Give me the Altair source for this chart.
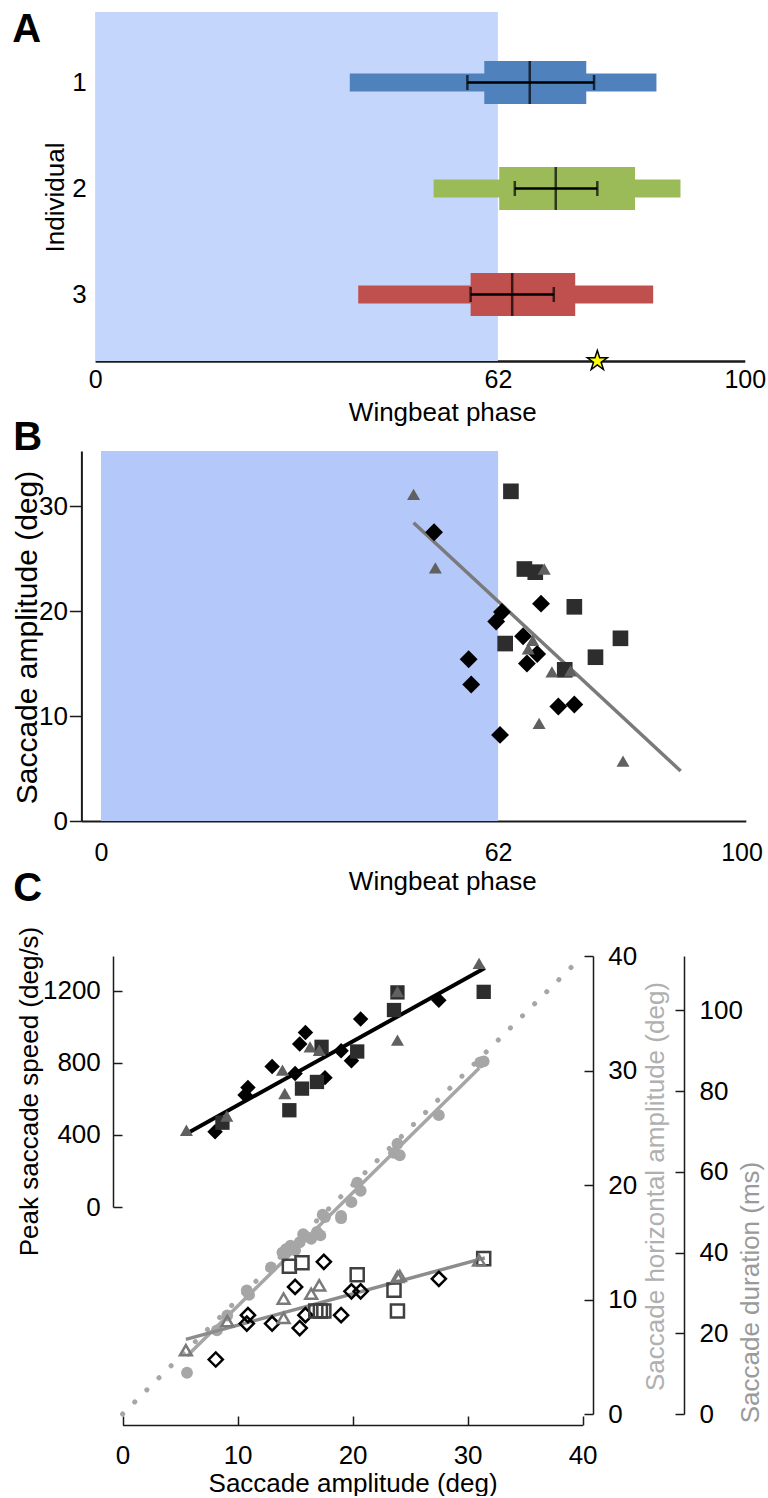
import altair as alt
import pandas as pd

FONT = "Liberation Sans"
INK = "#1a1a1a"

# ---------------- Panel A ----------------
a_individual = [1, 2, 3]
a_outer_lo = [39.2, 52.1, 40.5]
a_outer_hi = [86.4, 90.1, 85.9]
a_inner_lo = [59.9, 62.2, 57.8]
a_inner_hi = [75.6, 83.1, 73.9]
a_mean = [66.9, 70.9, 64.2]
a_err_lo = [57.3, 64.6, 57.8]
a_err_hi = [76.8, 77.3, 70.6]
a_colors = ["#4f81bd", "#9bbb59", "#c0504d"]
a_star = [77.3]
shade_phase = [0, 62]
phase_ticks = [0, 62, 100]

# ---------------- Panel B ----------------
b_tri_phase = [48.8, 52.2, 69.2, 67.4, 66.7, 70.4, 73.3, 68.4, 81.5]
b_tri_amp = [31.1, 24.1, 24.0, 17.2, 16.4, 14.2, 14.3, 9.3, 5.7]
b_sq_phase = [64.0, 66.1, 67.8, 73.9, 63.1, 81.1, 77.2, 72.4]
b_sq_amp = [31.4, 24.0, 23.7, 20.4, 16.9, 17.4, 15.6, 14.4]
b_dia_phase = [52.0, 68.7, 62.6, 61.7, 65.9, 68.1, 66.5, 57.4, 57.8, 71.4, 73.9, 62.3]
b_dia_amp = [27.5, 20.7, 19.9, 19.0, 17.6, 15.9, 15.0, 15.4, 13.0, 10.9, 11.1, 8.2]
b_fit_phase = [48.8, 90.5]
b_fit_amp = [28.4, 4.76]

# ---------------- Panel C ----------------
c_tri_amp = [5.55, 9.06, 13.9, 14.1, 16.3, 17.1, 23.9, 23.9, 31.0]
c_tri_speed = [426, 505, 760, 630, 889, 870, 926, 1196, 1352]
c_sq_amp = [8.68, 14.5, 15.6, 16.9, 17.3, 20.4, 23.6, 23.9, 31.4]
c_sq_speed = [468, 537, 657, 694, 889, 863, 1093, 1191, 1194]
c_dia_amp = [8.04, 10.9, 10.65, 13.0, 15.0, 15.4, 15.9, 17.6, 19.0, 19.9, 20.7, 27.5]
c_dia_speed = [418, 663, 622, 780, 741, 904, 968, 718, 867, 811, 1043, 1148]
c_speed_fit_amp = [5.55, 31.5]
c_speed_fit = [407, 1326]

c_circ_amp = [5.6, 8.2, 9.1, 10.8, 11.0, 12.9, 13.9, 14.2, 14.6, 15.0, 15.4, 15.7, 15.9, 16.4,
              16.9, 17.2, 17.4, 17.6, 19.0, 19.0, 19.9, 20.4, 20.7, 23.6, 23.9, 24.1, 27.5, 31.1, 31.4]
c_circ_horiz = [3.6, 7.3, 8.6, 10.8, 10.4, 12.8, 14.1, 14.4, 14.7, 14.3, 15.0, 15.7, 15.5, 15.3,
                15.9, 15.6, 17.4, 17.2, 17.1, 17.3, 18.5, 20.2, 19.5, 22.8, 23.6, 22.6, 26.1, 30.7, 30.8]
c_horiz_fit_amp = [5.6, 31.0]
c_horiz_fit = [5.06, 30.2]
c_unity = [0, 39.5]

c_otri_amp = [5.5, 9.1, 14.0, 14.0, 16.4, 17.1, 23.9, 24.1, 31.0]
c_otri_dur = [15.8, 23.0, 28.6, 23.8, 29.8, 31.9, 34.0, 34.2, 38.1]
c_osq_amp = [14.5, 15.6, 16.8, 17.2, 17.5, 20.4, 23.6, 23.9, 31.4]
c_osq_dur = [36.6, 37.5, 25.5, 25.5, 25.5, 34.5, 30.7, 25.5, 38.5]
c_odia_amp = [8.1, 10.9, 10.8, 13.0, 15.0, 15.4, 15.9, 17.5, 19.0, 19.9, 20.7, 27.5]
c_odia_dur = [13.5, 24.5, 22.4, 22.4, 31.5, 21.3, 24.5, 37.7, 24.5, 30.4, 30.4, 33.5]
c_dur_fit_amp = [5.5, 31.5]
c_dur_fit = [18.5, 38.7]

GROUPS = ["dia", "sq", "tri"]
SHAPES = ["diamond", "square", "triangle-up"]
STAR = ("M0,-1L0.2245,-0.309L0.951,-0.309L0.363,0.118L0.588,0.809L0,0.382"
        "L-0.588,0.809L-0.363,0.118L-0.951,-0.309L-0.2245,-0.309Z")

# layout sizes (plot areas)
A_W, A_H = 632, 349
B_W, B_H = 633, 370
C_W, C_H = 480, 503


def groups_frame(pairs, xname, yname):
    rows = []
    for g, xs, ys in pairs:
        for a, b in zip(xs, ys):
            rows.append({"grp": g, xname: a, yname: b})
    return pd.DataFrame(rows)


def tick_axis(orient, offset, values):
    """Axis drawing only short ticks pointing into the plot."""
    return alt.Axis(values=values, orient=orient, offset=offset, domain=False, labels=False,
                    ticks=True, tickSize=9, tickWidth=1.5, tickColor=INK, title=None, grid=False)


# ================= Panel A =================
dfA = pd.DataFrame(dict(ind=a_individual, olo=a_outer_lo, ohi=a_outer_hi, ilo=a_inner_lo,
                        ihi=a_inner_hi, mean=a_mean, elo=a_err_lo, ehi=a_err_hi))
shade_df = pd.DataFrame({"s0": [shade_phase[0]], "s1": [shade_phase[1]]})

xA = alt.Scale(domain=[0, 100], range=[-17.9, 631.8], nice=False, zero=False)
yA = alt.Scale(domain=[0.335, 3.627], reverse=True, nice=False, zero=False)
colA = alt.Color("ind:N", scale=alt.Scale(domain=a_individual, range=a_colors), legend=None)

xA_axis = alt.Axis(values=phase_ticks, format="d", ticks=False, domainColor=INK, domainWidth=2.5,
                   labelFontSize=25, labelPadding=6, labelFlush=False, labelColor="black",
                   title="Wingbeat phase", titleFontSize=26, titleFontWeight="normal",
                   titleColor="black", titleX=329.3, titleY=38, titleBaseline="top",
                   titleAlign="center", grid=False)
yA_axis = alt.Axis(values=a_individual, format="d", domain=False, ticks=False,
                   offset=26.7, labelPadding=0, labelFontSize=26, labelColor="black",
                   title="Individual", titleFontSize=26, titleFontWeight="normal", titleColor="black",
                   titleAngle=270, titleX=-23, titleY=185, titleBaseline="alphabetic",
                   titleAlign="center", grid=False)

a_shade = alt.Chart(shade_df).mark_rect(color="#c5d6fc").encode(
    x=alt.X("s0:Q", scale=xA, axis=xA_axis), x2="s1:Q")
a_outer = alt.Chart(dfA).mark_rule(strokeWidth=18).encode(
    x=alt.X("olo:Q", scale=xA, axis=None), x2="ohi:Q",
    y=alt.Y("ind:Q", scale=yA, axis=yA_axis), color=colA)
a_inner = alt.Chart(dfA).mark_rule(strokeWidth=43).encode(
    x=alt.X("ilo:Q", scale=xA, axis=None), x2="ihi:Q",
    y=alt.Y("ind:Q", scale=yA, axis=None), color=colA)
a_err = alt.Chart(dfA).mark_rule(strokeWidth=2.5, color="black").encode(
    x=alt.X("elo:Q", scale=xA, axis=None), x2="ehi:Q", y=alt.Y("ind:Q", scale=yA, axis=None))
a_cap_lo = alt.Chart(dfA).mark_tick(orient="vertical", size=15, thickness=2.5, color="black").encode(
    x=alt.X("elo:Q", scale=xA, axis=None), y=alt.Y("ind:Q", scale=yA, axis=None))
a_cap_hi = alt.Chart(dfA).mark_tick(orient="vertical", size=15, thickness=2.5, color="black").encode(
    x=alt.X("ehi:Q", scale=xA, axis=None), y=alt.Y("ind:Q", scale=yA, axis=None))
a_meanl = alt.Chart(dfA).mark_tick(orient="vertical", size=43, thickness=2.5, color="black").encode(
    x=alt.X("mean:Q", scale=xA, axis=None), y=alt.Y("ind:Q", scale=yA, axis=None))
a_starl = alt.Chart(pd.DataFrame({"p": a_star})).mark_point(
    shape=STAR, filled=True, fill="#ffff00", stroke="black", strokeWidth=1.5, size=440, opacity=1
).encode(x=alt.X("p:Q", scale=xA, axis=None), y=alt.value(A_H))

panelA = alt.layer(a_shade, a_outer, a_inner, a_err, a_cap_lo, a_cap_hi, a_meanl, a_starl).resolve_axis(
    x="independent", y="independent"
).properties(
    width=A_W, height=A_H,
    title=alt.Title("A", anchor="start", frame="group", fontSize=40, fontWeight="bold", font=FONT,
                    baseline="alphabetic", dx=12 - 112.7, dy=70, offset=0, color="black"))

# ================= Panel B =================
dfB = groups_frame([("dia", b_dia_phase, b_dia_amp), ("sq", b_sq_phase, b_sq_amp),
                    ("tri", b_tri_phase, b_tri_amp)], "phase", "amp")
fitB = pd.DataFrame({"phase": b_fit_phase, "amp": b_fit_amp})

xB = alt.Scale(domain=[-3.06, 100.67], range=[-31.6, 632.8], nice=False, zero=False)
yB = alt.Scale(domain=[0, 35.24], nice=False, zero=False)
xB_axis = alt.Axis(values=phase_ticks, format="d", ticks=False, domainColor=INK, domainWidth=2,
                   labelFontSize=25, labelPadding=19, labelFlush=False, labelColor="black",
                   title="Wingbeat phase", titleFontSize=26, titleFontWeight="normal",
                   titleColor="black", titleX=329.3, titleY=47, titleBaseline="top",
                   titleAlign="center", grid=False)
yB_axis = alt.Axis(values=[0, 10, 20, 30], format="d", orient="left", offset=31.6, tickSize=12,
                   tickWidth=1.5, tickColor=INK, domainColor=INK, domainWidth=2, labelPadding=2,
                   labelFontSize=26, labelColor="black", title="Saccade amplitude (deg)",
                   titleFontSize=30, titleFontWeight="normal", titleColor="black", titleAngle=270,
                   titleX=-45, titleY=186, titleBaseline="alphabetic", titleAlign="center",
                   grid=False)

b_shade = alt.Chart(shade_df).mark_rect(color="#b4c9fa").encode(
    x=alt.X("s0:Q", scale=xB, axis=xB_axis), x2="s1:Q")
b_pts = alt.Chart(dfB).mark_point(filled=True, opacity=1).encode(
    x=alt.X("phase:Q", scale=xB, axis=None),
    y=alt.Y("amp:Q", scale=yB, axis=yB_axis),
    shape=alt.Shape("grp:N", scale=alt.Scale(domain=GROUPS, range=SHAPES), legend=None),
    color=alt.Color("grp:N", scale=alt.Scale(domain=GROUPS, range=["#000000", "#2d2d2d", "#606060"]),
                    legend=None),
    size=alt.Size("grp:N", scale=alt.Scale(domain=GROUPS, range=[320, 170, 210]), legend=None))
b_fit = alt.Chart(fitB).mark_line(color="#7a7a7a", strokeWidth=3.5).encode(
    x=alt.X("phase:Q", scale=xB, axis=None), y=alt.Y("amp:Q", scale=yB, axis=None))

panelB = alt.layer(b_shade, b_fit, b_pts).resolve_axis(x="independent", y="independent").properties(
    width=B_W, height=B_H,
    title=alt.Title("B", anchor="start", frame="group", fontSize=40, fontWeight="bold", font=FONT,
                    baseline="alphabetic", dx=13 - 112.7, dy=39, offset=0, color="black"))

# ================= Panel C =================
xC = alt.Scale(domain=[0, 40], range=[9.6, 469.6], nice=False, zero=False)
c_x_vals = [0, 10, 20, 30, 40]
xC_axis = alt.Axis(values=c_x_vals, format="d", orient="bottom", offset=11, ticks=False,
                   domainColor=INK, domainWidth=1.5, labelPadding=17,
                   labelFontSize=26, labelFlush=False, labelColor="black",
                   title="Saccade amplitude (deg)", titleFontSize=26, titleFontWeight="normal",
                   titleColor="black", titleY=45, titleBaseline="top", grid=False)

ySpeed = alt.Scale(domain=[0, 1393], range=[296, 45], nice=False, zero=False)
speed_vals = [0, 400, 800, 1200]
ySpeed_axis = alt.Axis(values=speed_vals, format="d", orient="left", offset=0, ticks=False,
                       domainColor=INK, domainWidth=1.5, labelPadding=12.7,
                       labelFontSize=26, labelColor="black", title="Peak saccade speed (deg/s)",
                       titleFontSize=26, titleFontWeight="normal", titleColor="black",
                       titleAngle=270, titleX=-75.7, titleY=180, titleBaseline="alphabetic",
                       titleAlign="center", grid=False)
yHor = alt.Scale(domain=[0, 40], range=[C_H, 45], nice=False, zero=False)
hor_vals = [0, 10, 20, 30, 40]
yHor_axis = alt.Axis(values=hor_vals, format="d", orient="right", offset=0, ticks=False,
                     domainColor=INK, domainWidth=1.5,
                     labelPadding=14.7, labelFontSize=26, labelColor="black",
                     title="Saccade horizontal amplitude (deg)", titleFontSize=26,
                     titleFontWeight="normal", titleColor="#b0b0b0", titleAngle=270, titleX=70,
                     titleY=275, titleBaseline="alphabetic", titleAlign="center", grid=False)
yDur = alt.Scale(domain=[0, 113.5], range=[C_H, 45], nice=False, zero=False)
dur_vals = [0, 20, 40, 60, 80, 100]
yDur_axis = alt.Axis(values=dur_vals, format="d", orient="right", offset=91, ticks=False,
                     domainColor=INK, domainWidth=1.5, labelPadding=15,
                     labelFontSize=26, labelColor="black", title="Saccade duration (ms)",
                     titleFontSize=26, titleFontWeight="normal", titleColor="#9a9a9a",
                     titleAngle=270, titleX=74, titleY=381, titleBaseline="alphabetic",
                     titleAlign="center", grid=False)

dfSpeed = groups_frame([("dia", c_dia_amp, c_dia_speed), ("sq", c_sq_amp, c_sq_speed),
                        ("tri", c_tri_amp, c_tri_speed)], "amp", "val")
dfSpeedFit = pd.DataFrame({"amp": c_speed_fit_amp, "val": c_speed_fit})
dfCirc = pd.DataFrame({"amp": c_circ_amp, "val": c_circ_horiz})
dfHorFit = pd.DataFrame({"amp": c_horiz_fit_amp, "val": c_horiz_fit})
dfUnity = pd.DataFrame({"amp": c_unity, "val": c_unity})
dfDur = groups_frame([("dia", c_odia_amp, c_odia_dur), ("sq", c_osq_amp, c_osq_dur),
                      ("tri", c_otri_amp, c_otri_dur)], "amp", "val")
dfDurFit = pd.DataFrame({"amp": c_dur_fit_amp, "val": c_dur_fit})

# horizontal amplitude group
c_unity_l = alt.Chart(dfUnity).mark_line(color="#a6a6a6", strokeWidth=5, strokeCap="round",
                                         strokeDash=[0.1, 17]).encode(
    x=alt.X("amp:Q", scale=xC, axis=None), y=alt.Y("val:Q", scale=yHor, axis=yHor_axis))
c_circ = alt.Chart(dfCirc).mark_circle(color="#a6a6a6", size=140, opacity=1).encode(
    x=alt.X("amp:Q", scale=xC, axis=None),
    y=alt.Y("val:Q", scale=yHor, axis=tick_axis("right", -9, hor_vals)))
c_hor_fit = alt.Chart(dfHorFit).mark_line(color="#a6a6a6", strokeWidth=3.5).encode(
    x=alt.X("amp:Q", scale=xC, axis=None), y=alt.Y("val:Q", scale=yHor, axis=None))
hor_group = alt.layer(c_unity_l, c_circ, c_hor_fit).resolve_axis(y="independent")

# duration group
c_dur_fit = alt.Chart(dfDurFit).mark_line(color="#8c8c8c", strokeWidth=3.5).encode(
    x=alt.X("amp:Q", scale=xC, axis=None), y=alt.Y("val:Q", scale=yDur, axis=yDur_axis))
c_dur_pts = alt.Chart(dfDur).mark_point(filled=False, strokeWidth=2.5, opacity=1).encode(
    x=alt.X("amp:Q", scale=xC, axis=None),
    y=alt.Y("val:Q", scale=yDur, axis=tick_axis("right", 82, dur_vals)),
    shape=alt.Shape("grp:N", scale=alt.Scale(domain=GROUPS, range=SHAPES), legend=None),
    color=alt.Color("grp:N", scale=alt.Scale(domain=GROUPS, range=["#000000", "#404040", "#7a7a7a"]),
                    legend=None),
    size=alt.Size("grp:N", scale=alt.Scale(domain=GROUPS, range=[200, 140, 170]), legend=None))
dur_group = alt.layer(c_dur_fit, c_dur_pts).resolve_axis(y="independent")

# peak speed group
c_speed_fit_l = alt.Chart(dfSpeedFit).mark_line(color="#000000", strokeWidth=4).encode(
    x=alt.X("amp:Q", scale=xC, axis=xC_axis), y=alt.Y("val:Q", scale=ySpeed, axis=ySpeed_axis))
c_speed_pts = alt.Chart(dfSpeed).mark_point(filled=True, opacity=1).encode(
    x=alt.X("amp:Q", scale=xC, axis=tick_axis("bottom", 2, c_x_vals)),
    y=alt.Y("val:Q", scale=ySpeed, axis=tick_axis("left", -9, speed_vals)),
    shape=alt.Shape("grp:N", scale=alt.Scale(domain=GROUPS, range=SHAPES), legend=None),
    color=alt.Color("grp:N", scale=alt.Scale(domain=GROUPS, range=["#000000", "#2d2d2d", "#606060"]),
                    legend=None),
    size=alt.Size("grp:N", scale=alt.Scale(domain=GROUPS, range=[240, 170, 200]), legend=None))
speed_group = alt.layer(c_speed_fit_l, c_speed_pts).resolve_axis(x="independent", y="independent")

panelC = alt.layer(hor_group, dur_group, speed_group).resolve_scale(
    y="independent", shape="shared", color="independent", size="independent"
).resolve_axis(x="independent", y="independent").properties(
    width=C_W, height=C_H,
    title=alt.Title("C", anchor="start", frame="group", fontSize=40, fontWeight="bold", font=FONT,
                    baseline="alphabetic", dx=13 - 112.7, dy=30, offset=0, color="black"))

chart = alt.vconcat(panelA, panelB, panelC, spacing=90).resolve_scale(
    color="independent", shape="independent", size="independent"
).properties(
    bounds="flush", padding={"left": 12, "top": 10, "right": -12, "bottom": 0}
).configure(font=FONT).configure_view(stroke=None).configure_axis(
    labelFont=FONT, titleFont=FONT, grid=False
)

chart.save("out.html", embed_options={"renderer": "svg", "actions": False})
